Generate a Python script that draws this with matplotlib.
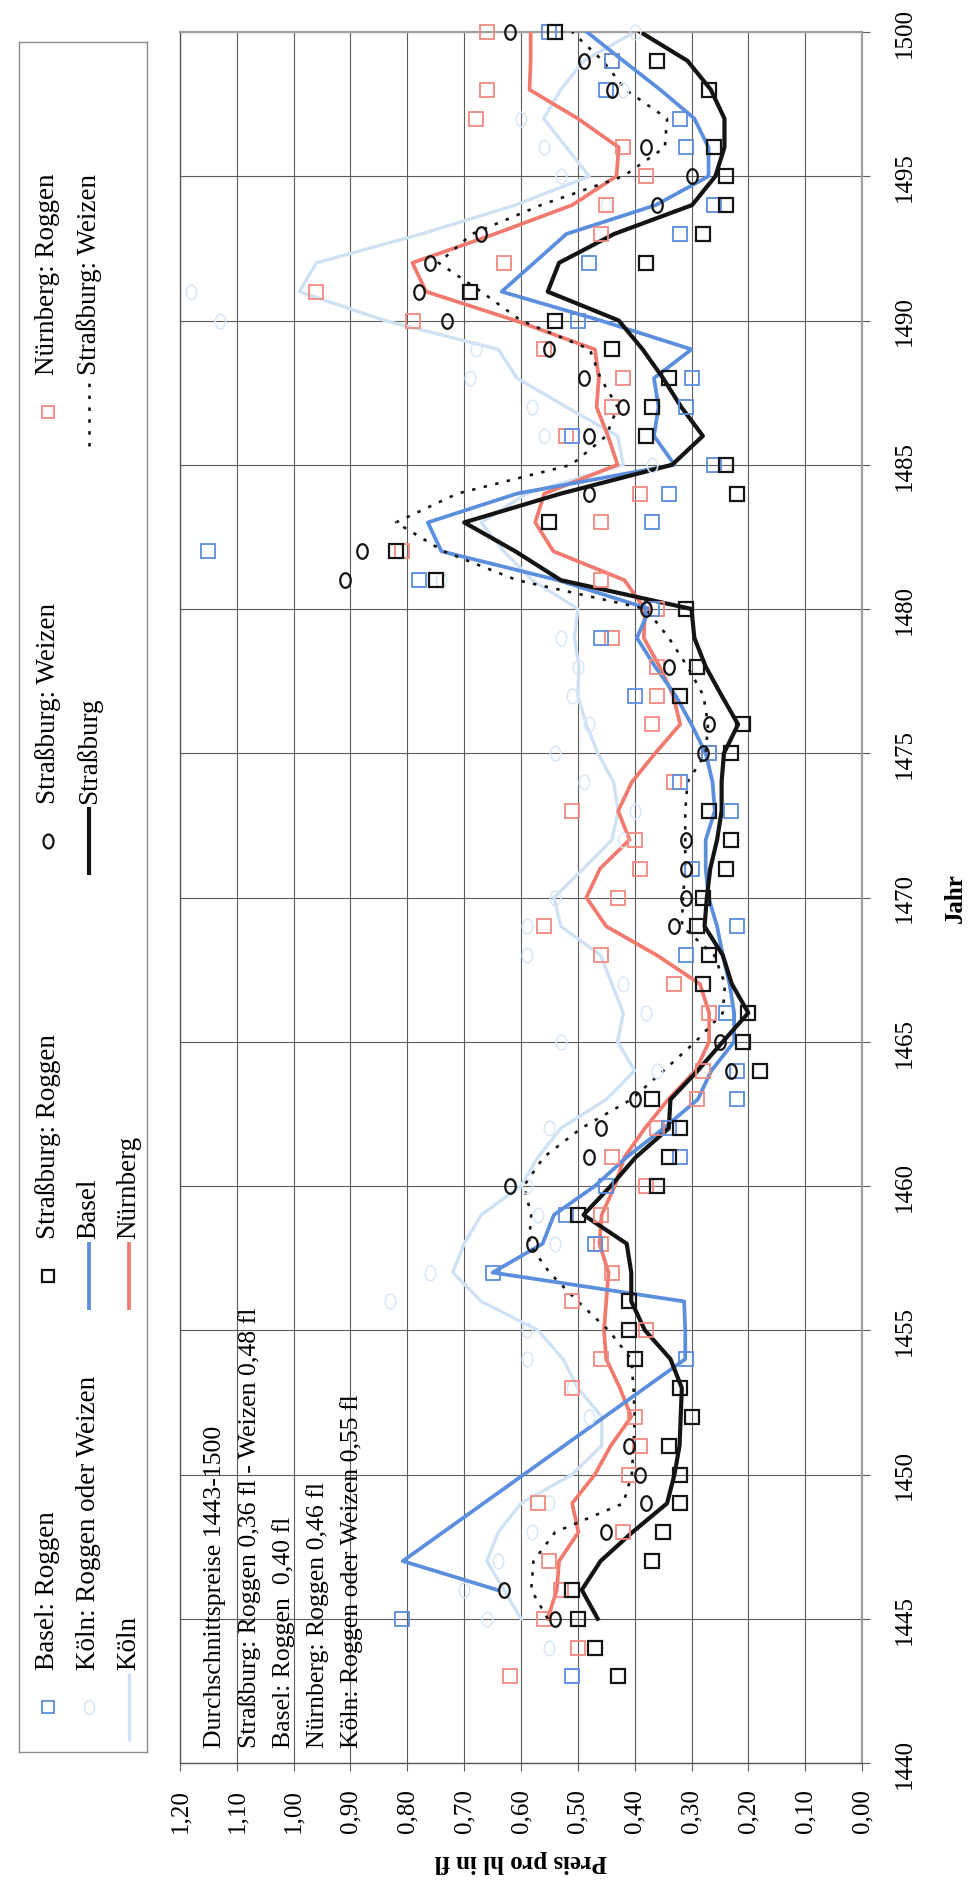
import numpy as np
import matplotlib
matplotlib.use("Agg")
import matplotlib.pyplot as plt
from matplotlib.path import Path
from matplotlib.ticker import FuncFormatter

plt.rcParams['font.family'] = ['Liberation Serif', 'DejaVu Serif']

# ----------------------------------------------------------------------------
# data (price in fl per hl, by year)
# ----------------------------------------------------------------------------
strb_roggen_years = [1443, 1444, 1445, 1446, 1447, 1448, 1449, 1450, 1451, 1452, 1453, 1454, 1455, 1456,
                     1459, 1460, 1461, 1462, 1463, 1464, 1465, 1466, 1467, 1468, 1469, 1470, 1471, 1472, 1473,
                     1475, 1476, 1477, 1478,
                     1480, 1481, 1482, 1483, 1484, 1485, 1486, 1487, 1488, 1489, 1490, 1491, 1492, 1493, 1494,
                     1495, 1496, 1498, 1499, 1500]
strb_roggen = [0.43, 0.47, 0.50, 0.51, 0.37, 0.35, 0.32, 0.32, 0.34, 0.30, 0.32, 0.40, 0.41, 0.41,
               0.50, 0.36, 0.34, 0.32, 0.37, 0.18, 0.21, 0.20, 0.28, 0.27, 0.29, 0.28, 0.24, 0.23, 0.27,
               0.23, 0.21, 0.32, 0.29,
               0.31, 0.75, 0.82, 0.55, 0.22, 0.24, 0.38, 0.37, 0.34, 0.44, 0.54, 0.69, 0.38, 0.28, 0.24,
               0.24, 0.26, 0.27, 0.36, 0.54]

strb_weizen_years = [1445, 1446, 1448, 1449, 1450, 1451, 1458, 1460, 1461, 1462, 1463, 1464, 1465,
                     1469, 1470, 1471, 1472, 1475, 1476, 1478, 1480, 1481, 1482, 1484,
                     1486, 1487, 1488, 1489, 1490, 1491, 1492, 1493, 1494, 1495, 1496, 1498, 1499, 1500]
strb_weizen = [0.54, 0.63, 0.45, 0.38, 0.39, 0.41, 0.58, 0.62, 0.48, 0.46, 0.40, 0.23, 0.25,
               0.33, 0.31, 0.31, 0.31, 0.28, 0.27, 0.34, 0.38, 0.91, 0.88, 0.48,
               0.48, 0.42, 0.49, 0.55, 0.73, 0.78, 0.76, 0.67, 0.36, 0.30, 0.38, 0.44, 0.49, 0.62]

basel_years = [1443, 1445, 1454, 1457, 1458, 1459, 1460, 1461, 1462, 1463, 1464, 1466,
               1468, 1469, 1470, 1471, 1473, 1474, 1475, 1477,
               1479, 1480, 1481, 1482, 1483, 1484, 1485, 1486, 1487, 1488, 1490,
               1492, 1493, 1494, 1496, 1497, 1498, 1499, 1500]
basel = [0.51, 0.81, 0.31, 0.65, 0.47, 0.52, 0.45, 0.32, 0.34, 0.22, 0.22, 0.24,
         0.31, 0.22, 0.28, 0.30, 0.23, 0.32, 0.27, 0.40,
         0.46, 0.37, 0.78, 1.15, 0.37, 0.34, 0.26, 0.51, 0.31, 0.30, 0.50,
         0.48, 0.32, 0.26, 0.31, 0.32, 0.45, 0.44, 0.55]

nbg_years = [1443, 1444, 1445, 1446, 1447, 1448, 1449, 1450, 1451, 1452, 1453, 1454, 1455, 1456,
             1457, 1458, 1459, 1460, 1461, 1462, 1463, 1464,
             1466, 1467, 1468, 1469, 1470, 1471, 1472, 1473, 1474, 1475, 1476, 1477, 1478, 1479,
             1480, 1481, 1482, 1483, 1484,
             1486, 1487, 1488, 1489, 1490, 1491, 1492, 1493, 1494, 1495, 1496, 1497, 1498, 1499, 1500]
nbg = [0.62, 0.50, 0.56, 0.53, 0.55, 0.42, 0.57, 0.41, 0.39, 0.40, 0.51, 0.46, 0.38, 0.51,
       0.44, 0.46, 0.46, 0.38, 0.44, 0.36, 0.29, 0.28,
       0.27, 0.33, 0.46, 0.56, 0.43, 0.39, 0.40, 0.51, 0.33, 0.27, 0.37, 0.36, 0.36, 0.44,
       0.36, 0.46, 0.81, 0.46, 0.39,
       0.52, 0.44, 0.42, 0.56, 0.79, 0.96, 0.63, 0.46, 0.45, 0.38, 0.42, 0.68, 0.66, 0.44, 0.66]

koeln_years = [1444, 1445, 1446, 1447, 1448, 1449, 1452, 1453, 1454, 1455, 1456, 1457, 1458, 1459,
               1460, 1462, 1464, 1465, 1466, 1467, 1468, 1469, 1470, 1472, 1473, 1474, 1475, 1476,
               1477, 1478, 1479, 1481, 1485, 1486, 1487, 1488, 1489, 1490, 1491,
               1494, 1495, 1496, 1497, 1498, 1500]
koeln = [0.55, 0.66, 0.70, 0.64, 0.58, 0.55, 0.48, 0.51, 0.59, 0.59, 0.83, 0.76, 0.54, 0.57,
         0.59, 0.55, 0.36, 0.53, 0.38, 0.42, 0.59, 0.59, 0.54, 0.42, 0.40, 0.49, 0.54, 0.48,
         0.51, 0.50, 0.53, 0.74, 0.37, 0.56, 0.58, 0.69, 0.68, 1.13, 1.18,
         0.45, 0.53, 0.56, 0.60, 0.42, 0.40]

# smoothed curves (1445-1500); Basel has a gap 1448-1453
line_years = list(range(1445, 1501))
strb_line = [0.465, 0.493, 0.46, 0.404, 0.343, 0.33, 0.321, 0.319, 0.317, 0.337,
             0.382, 0.406, 0.406, 0.414, 0.49, 0.442, 0.398, 0.34, 0.337, 0.289,
             0.245, 0.20, 0.229, 0.245, 0.277, 0.273, 0.267, 0.255, 0.247, 0.247,
             0.243, 0.218, 0.247, 0.275, 0.295, 0.30, 0.53, 0.61, 0.70, 0.53,
             0.334, 0.28, 0.318, 0.35, 0.386, 0.428, 0.553, 0.533, 0.436, 0.299,
             0.258, 0.242, 0.242, 0.266, 0.307, 0.39]
nbg_line = [0.553, 0.537, 0.533, 0.499, 0.51, 0.47, 0.442, 0.406, 0.426, 0.45,
            0.454, 0.45, 0.446, 0.462, 0.458, 0.435, 0.418, 0.382, 0.341, 0.293,
            0.269, 0.269, 0.285, 0.361, 0.45, 0.485, 0.461, 0.409, 0.429, 0.405,
            0.364, 0.32, 0.332, 0.356, 0.384, 0.382, 0.418, 0.543, 0.575, 0.559,
            0.43, 0.447, 0.467, 0.463, 0.47, 0.61, 0.767, 0.791, 0.646, 0.51,
            0.432, 0.428, 0.50, 0.585, 0.583, 0.583]
strw_line = [0.553, 0.582, 0.578, 0.54, 0.42, 0.405, 0.402, 0.40, 0.402, 0.406,
             0.446, 0.50, 0.55, 0.586, 0.582, 0.595, 0.56, 0.494, 0.406, 0.349,
             0.293, 0.245, 0.241, 0.26, 0.317, 0.315, 0.311, 0.311, 0.311, 0.307,
             0.275, 0.271, 0.279, 0.307, 0.34, 0.38, 0.607, 0.736, 0.82, 0.712,
             0.511, 0.45, 0.43, 0.46, 0.479, 0.60, 0.67, 0.745, 0.686, 0.565,
             0.42, 0.347, 0.343, 0.416, 0.456, 0.51]
koeln_line = [0.60, 0.63, 0.66, 0.64, 0.60, 0.51, 0.458, 0.458, 0.50, 0.526,
              0.57, 0.67, 0.72, 0.70, 0.67, 0.60, 0.57, 0.53, 0.45, 0.40,
              0.43, 0.42, 0.44, 0.46, 0.53, 0.542, 0.49, 0.44, 0.429, 0.437,
              0.465, 0.485, 0.50, 0.498, 0.506, 0.50, 0.58, 0.63, 0.67, 0.59,
              0.42, 0.43, 0.52, 0.607, 0.64, 0.84, 0.99, 0.96, 0.775, 0.61,
              0.48, 0.52, 0.56, 0.53, 0.49, 0.40]
basel_line_years = [1446, 1447] + list(range(1454, 1501))
basel_line = [0.642, 0.808,
              0.311, 0.311, 0.313, 0.65, 0.562, 0.542, 0.47, 0.414, 0.349, 0.289,
              0.265, 0.225, 0.225, 0.233, 0.245, 0.255, 0.27, 0.275, 0.275, 0.259,
              0.263, 0.275, 0.30, 0.328, 0.364, 0.396, 0.374, 0.535, 0.74, 0.764,
              0.607, 0.33, 0.366, 0.358, 0.366, 0.30, 0.46, 0.634, 0.577, 0.52,
              0.363, 0.27, 0.27, 0.295, 0.355, 0.42, 0.484]

notes = ["Durchschnittspreise 1443-1500",
         "Straßburg: Roggen 0,36 fl - Weizen 0,48 fl",
         "Basel: Roggen  0,40 fl",
         "Nürnberg: Roggen 0,46 fl",
         "Köln: Roggen oder Weizen 0,55 fl"]

price_ticks = np.round(np.arange(0, 1.21, 0.1), 2)
year_ticks = list(range(1440, 1501, 5))

# ----------------------------------------------------------------------------
# styles
# ----------------------------------------------------------------------------
BLUE = '#5b8edc'
SALMON = '#f07a6e'
SALMON_PT = '#f2897e'
KOELN_LINE = '#cfe1f4'
KOELN_PT = '#d8e7f6'
BLACK = '#141414'
GRID = '#5c5c5c'

# tall "O" like the scanned circles
t = np.linspace(0, 2 * np.pi, 40)
ellipse = Path(np.c_[0.72 * np.cos(t), np.sin(t)], closed=True)

# ----------------------------------------------------------------------------
# figure: the whole chart is printed turned by 90 degrees
# ----------------------------------------------------------------------------
W, H = 969, 1881
fig = plt.figure(figsize=(W / 100, H / 100), dpi=100)
L, R, T, B = 180, 862, 33, 1764
ax = fig.add_axes([L / W, 1 - B / H, (R - L) / W, (B - T) / H])

ax.plot(koeln_line, line_years, color=KOELN_LINE, lw=2.4, zorder=2)
ax.plot(nbg_line, line_years, color=SALMON, lw=2.7, zorder=3)
ax.plot(basel_line, basel_line_years, color=BLUE, lw=2.7, zorder=4)
ax.plot(strw_line, line_years, color=BLACK, lw=1.9, ls=(0, (1.3, 3.2)), zorder=5)
ax.plot(strb_line, line_years, color=BLACK, lw=3.0, zorder=6)

pt = dict(ls='none', mfc='none', clip_on=False, zorder=7)
ax.plot(koeln, koeln_years, marker=ellipse, ms=10.5, mec=KOELN_PT, mew=1.1, **pt)
ax.plot(nbg, nbg_years, marker='s', ms=9.5, mec=SALMON_PT, mew=1.3, **pt)
ax.plot(basel, basel_years, marker='s', ms=9.5, mec=BLUE, mew=1.3, **pt)
ax.plot(strb_roggen, strb_roggen_years, marker='s', ms=9.5, mec=BLACK, mew=1.6, **pt)
ax.plot(strb_weizen, strb_weizen_years, marker=ellipse, ms=10.5, mec=BLACK, mew=1.6, **pt)

ax.set_xlim(1.2, 0)
ax.set_ylim(1440, 1500)
ax.set_xticks(price_ticks)
ax.set_yticks(year_ticks)
ax.xaxis.set_major_formatter(FuncFormatter(lambda v, p: f"{v:.2f}".replace('.', ',')))
ax.yaxis.tick_right()
ax.tick_params(axis='x', direction='out', length=6, width=0.8, color=GRID, pad=12,
               labelsize=18, labelrotation=90)
ax.tick_params(axis='y', direction='out', length=6, width=0.8, color=GRID, pad=17,
               labelsize=18)
plt.setp(ax.get_yticklabels(), rotation=90, va='center', ha='left')
ax.grid(True, color=GRID, lw=0.8)
ax.set_axisbelow(True)
for side in ['left', 'bottom']:
    ax.spines[side].set_color('#555555')
    ax.spines[side].set_linewidth(1.0)
for side in ['top', 'right']:
    ax.spines[side].set_color('#a0a0a0')
    ax.spines[side].set_linewidth(1.6)

fig.text((L + R) / 2 / W, 1 - 1862 / H, 'Preis pro hl in fl', rotation=180,
         ha='center', va='center', fontsize=18, fontweight='bold')
fig.text(955 / W, 1 - 898 / H, 'Jahr', rotation=90,
         ha='center', va='center', fontsize=18, fontweight='bold')

for i, line in enumerate(notes):
    ax.text(0.052 + 0.05 * i, 0.0095, line, transform=ax.transAxes, rotation=90,
            ha='center', va='bottom', fontsize=18.5, zorder=8)

# ----------------------------------------------------------------------------
# legend box, drawn by hand because the text has to be turned as well
# ----------------------------------------------------------------------------
lx0, lx1, ly0, ly1 = 19, 147, 43, 1753
lax = fig.add_axes([lx0 / W, 1 - ly1 / H, (lx1 - lx0) / W, (ly1 - ly0) / H])
lax.set_xlim(lx0, lx1)
lax.set_ylim(ly1, ly0)
lax.set_xticks([])
lax.set_yticks([])
for s in lax.spines.values():
    s.set_color('#8c8c8c')
    s.set_linewidth(1.0)

rows = [48, 89, 129]
cols = [1708, 1277, 842, 413]
entries = [
    (0, 0, 'Basel: Roggen', dict(marker='s', mec=BLUE, mew=1.3, ms=9)),
    (0, 1, 'Straßburg: Roggen', dict(marker='s', mec=BLACK, mew=1.6, ms=9)),
    (0, 2, 'Straßburg: Weizen', dict(marker=ellipse, mec=BLACK, mew=1.6, ms=10)),
    (0, 3, 'Nürnberg: Roggen', dict(marker='s', mec=SALMON_PT, mew=1.3, ms=9)),
    (1, 0, 'Köln: Roggen oder Weizen', dict(marker=ellipse, mec=KOELN_PT, mew=1.1, ms=10)),
    (1, 1, 'Basel', dict(color=BLUE, lw=2.7)),
    (1, 2, 'Straßburg', dict(color=BLACK, lw=3.0)),
    (1, 3, 'Straßburg: Weizen', dict(color=BLACK, lw=1.9, ls=(0, (1.3, 3.2)))),
    (2, 0, 'Köln', dict(color=KOELN_LINE, lw=2.4)),
    (2, 1, 'Nürnberg', dict(color=SALMON, lw=2.7)),
]
for r, c, label, style in entries:
    x, y = rows[r], cols[c]
    if 'marker' in style:
        lax.plot([x], [y], ls='none', mfc='none', **style)
    else:
        lax.plot([x, x], [y + 34, y - 34], solid_capstyle='butt', **style)
    lax.text(x, y - 38, label, rotation=90, ha='center', va='bottom', fontsize=19.5)

fig.savefig('out.png', dpi=100)
